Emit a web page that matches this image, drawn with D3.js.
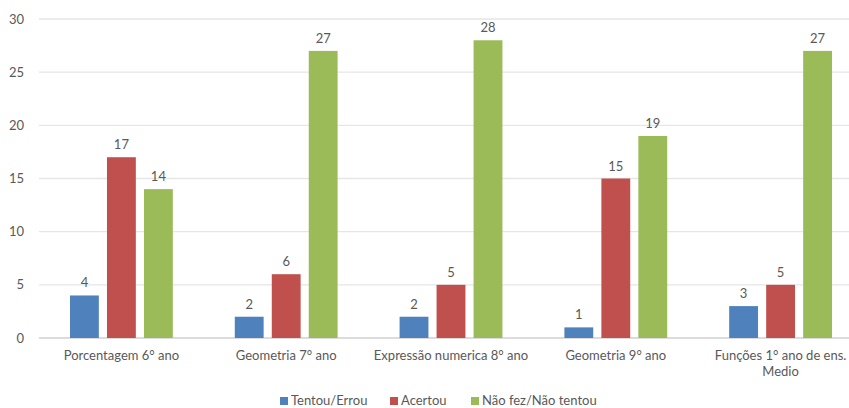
<!DOCTYPE html>
<html>
<head>
<meta charset="utf-8">
<script src="https://cdn.jsdelivr.net/npm/d3@7"></script>
<style>
body{margin:0;background:#fff;}
text{font-family:Lato,"Open Sans",sans-serif;fill:#595959;}
</style>
</head>
<body>
<svg class="chart" width="849" height="408"></svg>
<script>
// categories and series
var categories = ["Porcentagem 6° ano","Geometria 7° ano","Expressão numerica 8° ano","Geometria 9° ano","Funções 1° ano de ens. Medio"];
var seriesNames = ["Tentou/Errou","Acertou","Não fez/Não tentou"];
var tentou = [4,2,2,1,3];
var acertou = [17,6,5,15,5];
var naoFez = [14,27,28,19,27];
var yTicks = [0,5,10,15,20,25,30];
var colors = ["#4F81BD","#C0504D","#9BBB59"];

var svg = d3.select(".chart");
var plotLeft = 39, plotRight = 863, plotTop = 19, plotBottom = 338;

var scaleX = d3.scaleBand().domain(categories).range([plotLeft,plotRight]).paddingInner(0.376).paddingOuter(0.188);
var scaleY = d3.scaleLinear().domain([0,30]).range([plotBottom,plotTop]);
var inner = d3.scaleBand().domain(seriesNames).range([0,scaleX.bandwidth()]).paddingInner(0.22);

//grid
svg.selectAll(".grid")
	.data(yTicks)
	.enter()
	.append("line")
	.attr("x1",plotLeft).attr("x2",849)
	.attr("y1",function(d){return scaleY(d);})
	.attr("y2",function(d){return scaleY(d);})
	.style("stroke",function(d){return d==0?"#d0d0d0":"#e6e6e6";})
	.style("stroke-width",1.3);

svg.selectAll(".ytick")
	.data(yTicks)
	.enter()
	.append("text")
	.attr("x",24)
	.attr("y",function(d){return scaleY(d)+4.5;})
	.attr("text-anchor","end")
	.style("font-size","13px")
	.text(function(d){return d;});

var data = [tentou,acertou,naoFez];
data.forEach(function(vals,s){
	var g = svg.append("g");
	g.selectAll("rect")
		.data(vals)
		.enter()
		.append("rect")
		.attr("x",function(d,i){return scaleX(categories[i])+inner(seriesNames[s]);})
		.attr("y",function(d){return scaleY(d);})
		.attr("width",inner.bandwidth())
		.attr("height",function(d){return plotBottom-scaleY(d);})
		.style("fill",colors[s]);
	g.selectAll("text")
		.data(vals)
		.enter()
		.append("text")
		.attr("x",function(d,i){return scaleX(categories[i])+inner(seriesNames[s])+inner.bandwidth()/2;})
		.attr("y",function(d){return scaleY(d)-8;})
		.attr("text-anchor","middle")
		.style("font-size","13px")
		.text(function(d){return d;});
});

//category labels, wrapped like the original
var catLines = [["Porcentagem 6° ano"],["Geometria 7° ano"],["Expressão numerica 8° ano"],["Geometria 9° ano"],["Funções 1° ano de ens.","Medio"]];
catLines.forEach(function(lines,i){
	var cx = scaleX(categories[i])+scaleX.bandwidth()/2;
	var t = svg.append("text")
		.attr("x",cx)
		.attr("y",360)
		.attr("text-anchor","middle")
		.style("font-size","13px");
	lines.forEach(function(l,j){
		t.append("tspan").attr("x",cx).attr("dy",j==0?0:16).text(l);
	});
});

//legend
var legendX = [280,390,471];
seriesNames.forEach(function(n,i){
	svg.append("rect").attr("x",legendX[i]).attr("y",397).attr("width",8).attr("height",8).style("fill",colors[i]);
	svg.append("text").attr("x",legendX[i]+11).attr("y",405).style("font-size","13px").text(n);
});
</script>
</body>
</html>
